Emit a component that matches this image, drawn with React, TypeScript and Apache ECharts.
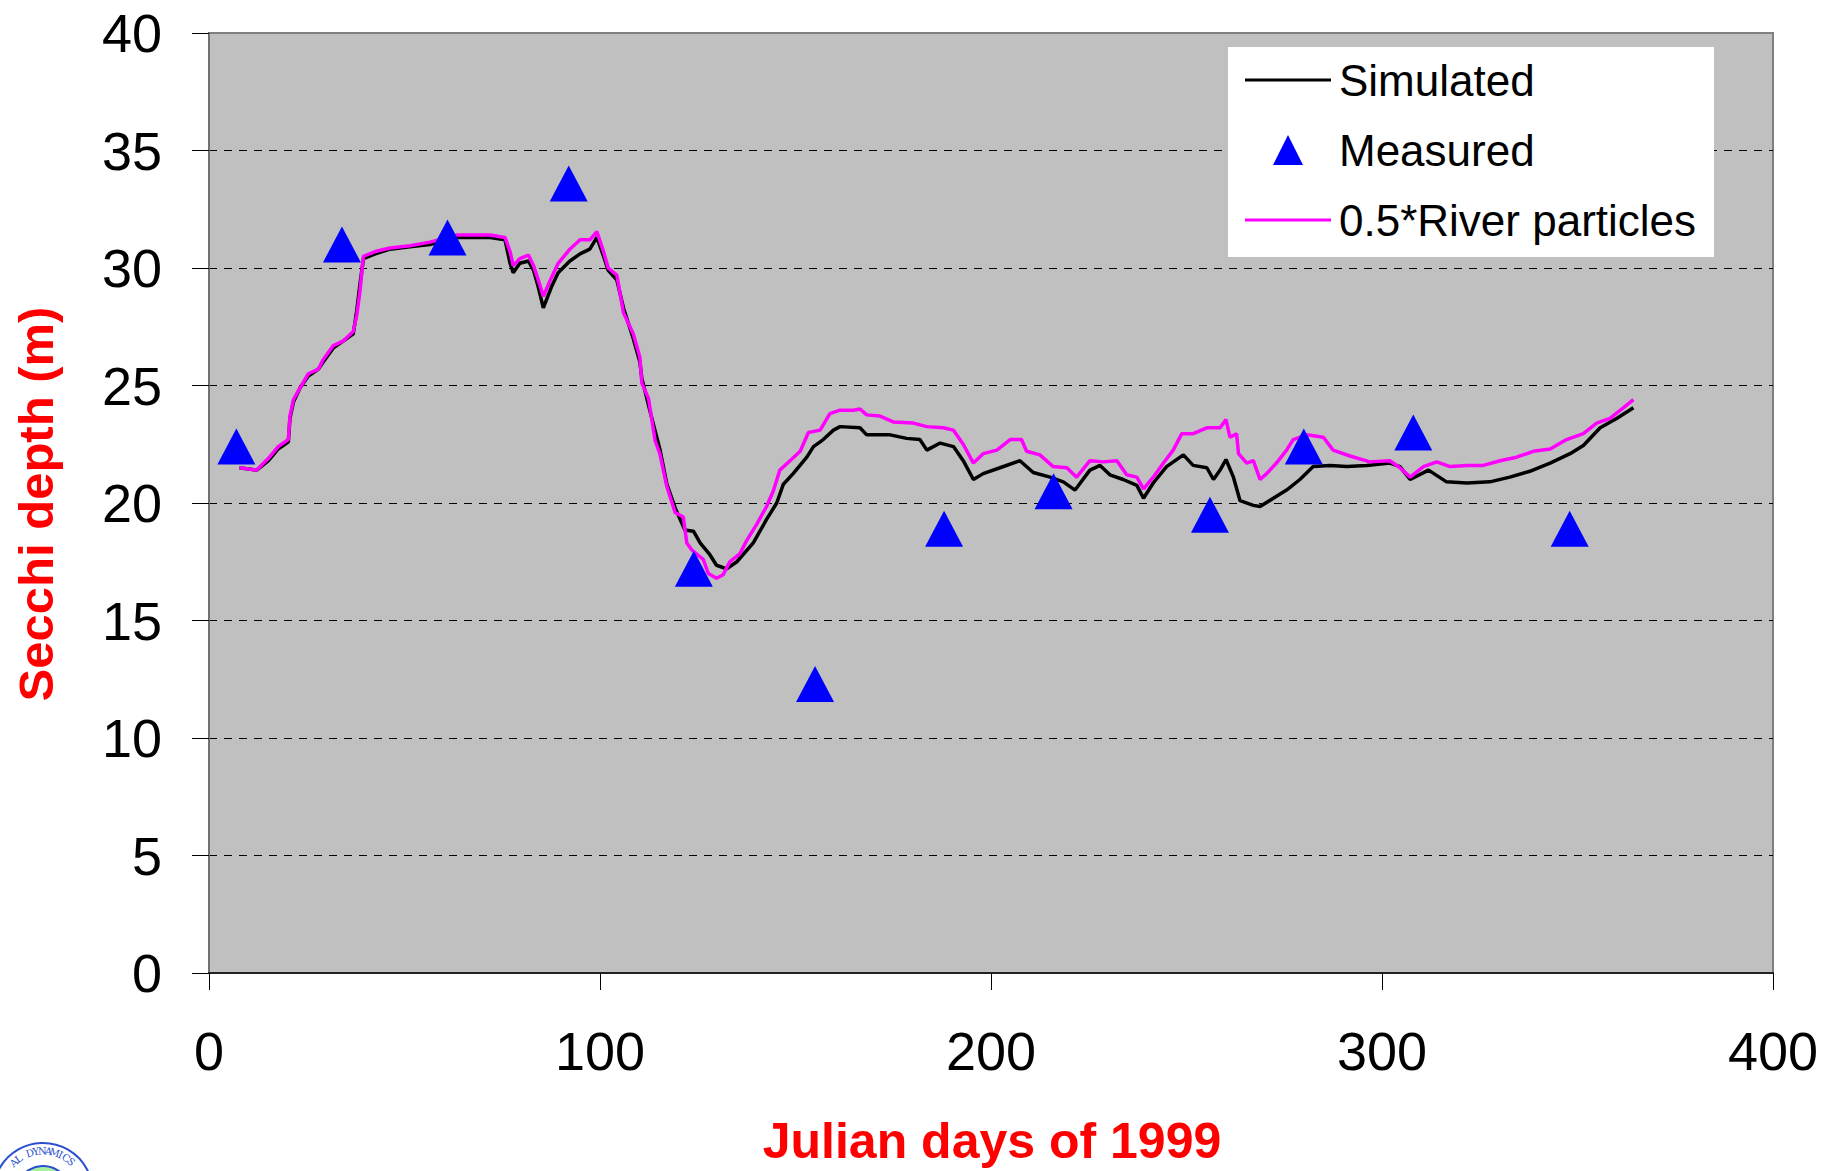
import React, { useEffect, useRef } from "react";
import * as echarts from "echarts";

// Measured Secchi depths (blue triangles)
const measDays = [7, 34, 61, 92, 124, 155, 188, 216, 256, 280, 308, 348];
const measDepth = [22.4, 31.0, 31.3, 33.6, 17.2, 12.3, 18.9, 20.5, 19.5, 22.4, 23.0, 18.9];

// Simulated (black line)
const simDays = [
  7.8, 12.2, 15.2, 17.7, 20.3, 20.7, 21.6, 23.3, 25.4, 28, 29.2, 31.8, 34.4, 36.9, 37.8, 38.6, 39.5,
  42.5, 46.3, 51.4, 56.5, 63.3, 71.9, 75.7, 77, 77.8, 79.5, 81.7, 83, 84.2, 85.5, 87.6, 89.3, 92.3,
  94.9, 97.4, 99.2, 100.9, 102.1, 104.3, 106, 108.5, 110.2, 110.7, 112.8, 115.3, 117.1, 119.2, 121.7,
  123.9, 125.6, 128.1, 129.8, 132.4, 135, 139.2, 142.6, 145.2, 146.9, 149.4, 152.9, 154.6, 157.1,
  159.7, 161.4, 166.5, 168.2, 174.2, 178.4, 181.8, 183.6, 187, 190.4, 192.9, 195.5, 198, 202.3,
  207.4, 210.8, 215.1, 218.5, 221.5, 225.3, 227.9, 230.4, 233.8, 237.3, 239, 241.5, 244.9, 249.2,
  251.7, 255.2, 256.9, 258.6, 260.1, 262, 263.7, 267.1, 268.8, 272.2, 275.6, 279, 282.4, 286.7,
  291, 296.1, 302, 304.6, 307.2, 311.9, 316.5, 321.7, 327.6, 332.7, 337.8, 343, 348.1, 351.5,
  355.8, 360, 364.3,
];
const simDepth = [
  21.5, 21.4, 21.8, 22.3, 22.6, 23.6, 24.3, 24.9, 25.4, 25.7, 26.0, 26.6, 26.9, 27.2, 28.2, 29.3, 30.4,
  30.6, 30.8, 30.9, 31.0, 31.3, 31.3, 31.2, 30.2, 29.8, 30.2, 30.3, 29.9, 29.2, 28.3, 29.2, 29.8, 30.3,
  30.6, 30.8, 31.3, 30.5, 29.9, 29.5, 28.3, 27.0, 26.0, 25.3, 23.9, 22.3, 20.8, 19.8, 18.85,
  18.8, 18.3, 17.8, 17.35, 17.2, 17.5, 18.3, 19.3, 20.0, 20.8, 21.25, 21.95, 22.4, 22.7,
  23.1, 23.25, 23.2, 22.9, 22.9, 22.75, 22.7, 22.25, 22.55, 22.4, 21.8, 21.0, 21.25, 21.5,
  21.8, 21.3, 21.1, 20.9, 20.55, 21.4, 21.6, 21.2, 21.0, 20.75, 20.2, 20.85, 21.55, 22.05,
  21.6, 21.5, 21.0, 21.4, 21.85, 21.1, 20.1, 19.9, 19.85, 20.2, 20.55, 21.0, 21.55, 21.6,
  21.55, 21.6, 21.7, 21.55, 21.0, 21.4, 20.9, 20.85, 20.9, 21.1, 21.35, 21.7, 22.1, 22.45,
  23.2, 23.6, 24.05,
];

// 0.5*River particles (magenta line)
const riverDays = [
  7.8, 12.2, 15.2, 17.7, 20.3, 20.7, 21.6, 23.3, 25.4, 28, 29.2, 31.8, 34.4, 36.9, 37.8, 38.6, 39.5,
  42.5, 46.3, 51.4, 56.5, 63.3, 71.9, 75.7, 77, 77.8, 79.5, 81.7, 83, 84.2, 85.5, 87.6, 89.3, 92.3,
  94.9, 97.4, 99.2, 100.9, 102.1, 104.3, 106, 108.5, 110.2, 110.7, 112.4, 113.2, 114.1, 115.3, 117.1,
  119.2, 121.3, 122.2, 123.5, 126.4, 127.7, 129.8, 131.5, 133.2, 135.8, 137.5, 140.1, 142.6, 144.3,
  146, 148.6, 151.2, 153.3, 156.3, 158.8, 161.4, 164.8, 166.5, 168.2, 171.6, 175, 180.1, 183.6,
  187.8, 190.4, 192.9, 195.5, 198, 201.5, 204.9, 207.8, 209.1, 212.5, 215.9, 219.4, 221.9, 225.3,
  228.7, 232.2, 234.7, 237.3, 239, 241.5, 244.1, 246.6, 248.8, 251.7, 255.2, 258.6, 260.1, 261.1,
  262.8, 263.3, 265.4, 267.1, 268.8, 270.5, 273, 275.6, 277.3, 280.7, 285, 287.5, 291.8, 296.9,
  302, 304.6, 307.2, 310.6, 314, 317.4, 321.7, 325.9, 330.2, 334.4, 338.7, 343, 347.2, 351.5,
  354.9, 358.3, 361.7, 364.3,
];
const riverDepth = [
  21.5, 21.4, 21.9, 22.4, 22.7, 23.7, 24.4, 24.9, 25.5, 25.7, 26.1, 26.7, 26.9, 27.3, 28.0, 29.0, 30.5,
  30.7, 30.85, 30.95, 31.1, 31.4, 31.4, 31.3, 30.7, 30.1, 30.4, 30.55, 30.1, 29.5, 28.8, 29.6, 30.2, 30.8,
  31.2, 31.2, 31.55, 30.7, 30.0, 29.7, 28.1, 27.2, 26.2, 25.1, 24.45, 23.6, 22.65, 22.1, 20.7,
  19.6, 19.4, 18.3, 18.0, 17.6, 17.0, 16.8, 16.95, 17.5, 17.85, 18.4, 19.1, 19.85, 20.5,
  21.4, 21.8, 22.2, 23.0, 23.1, 23.8, 23.95, 23.95, 24.0, 23.75, 23.7, 23.45, 23.4, 23.25,
  23.2, 23.1, 22.5, 21.7, 22.1, 22.25, 22.7, 22.7, 22.2, 22.05, 21.55, 21.5, 21.1, 21.8,
  21.75, 21.8, 21.2, 21.1, 20.6, 21.1, 21.7, 22.25, 22.95, 22.95, 23.2, 23.2, 23.55, 22.8,
  22.95, 22.1, 21.7, 21.8, 21.0, 21.25, 21.7, 22.25, 22.7, 22.9, 22.8, 22.25, 22.0, 21.75,
  21.8, 21.5, 21.1, 21.55, 21.75, 21.55, 21.6, 21.6, 21.8, 21.95, 22.2, 22.3, 22.7, 22.95,
  23.4, 23.6, 24.05, 24.4,
];

const xTicks = { min: 0, max: 400, interval: 100 };
const yTicks = { min: 0, max: 40, interval: 5 };

const FONT = '"Liberation Sans", Arial, Helvetica, sans-serif';

function logoGraphics() {
  const cx = 43;
  const cy = 1193;
  const els: any[] = [
    { type: "circle", shape: { cx, cy, r: 50 }, style: { fill: "#fff", stroke: "#2a4fd0", lineWidth: 2 } },
    { type: "circle", shape: { cx, cy, r: 27 }, style: { fill: "#a8f0a0", stroke: "#2a4fd0", lineWidth: 2 } },
  ];
  const txt = "AL DYNAMICS";
  const start = -134;
  const step = 8.6;
  for (let i = 0; i < txt.length; i++) {
    const th = ((start + i * step) * Math.PI) / 180;
    const r = 42;
    els.push({
      type: "text",
      x: cx + r * Math.cos(th),
      y: cy + r * Math.sin(th),
      rotation: -(th + Math.PI / 2),
      style: {
        text: txt[i],
        fill: "#2a4fd0",
        font: '10px "DejaVu Serif", serif',
        align: "center",
        verticalAlign: "middle",
      },
    });
  }
  return els;
}

export default function App() {
  const ref = useRef<HTMLDivElement>(null);
  useEffect(() => {
    if (!ref.current) return;
    const chart = echarts.init(ref.current, null, { renderer: "svg" });
    chart.setOption({
      animation: false,
      backgroundColor: "#ffffff",
      grid: {
        left: 209,
        right: 70,
        top: 33,
        bottom: 198,
        show: true,
        backgroundColor: "#c0c0c0",
        borderColor: "#808080",
        borderWidth: 2,
      },
      xAxis: {
        type: "value",
        min: xTicks.min,
        max: xTicks.max,
        interval: xTicks.interval,
        axisLine: { show: true, onZero: false, lineStyle: { color: "#222", width: 2 } },
        axisTick: { show: true, length: 17, lineStyle: { color: "#000", width: 1 } },
        axisLabel: { fontSize: 54, color: "#000", fontFamily: FONT, margin: 51 },
        splitLine: { show: false },
      },
      yAxis: {
        type: "value",
        min: yTicks.min,
        max: yTicks.max,
        interval: yTicks.interval,
        axisLine: { show: true, onZero: false, lineStyle: { color: "#707070", width: 2 } },
        axisTick: { show: true, length: 17, lineStyle: { color: "#000", width: 1 } },
        axisLabel: { fontSize: 54, color: "#000", fontFamily: FONT, margin: 47 },
        splitLine: {
          show: true,
          showMinLine: false,
          showMaxLine: false,
          lineStyle: { color: "#000", width: 1, type: [8, 7] },
        },
      },
      legend: {
        orient: "vertical",
        left: 1228,
        top: 47,
        backgroundColor: "#ffffff",
        padding: [8, 18, 12, 17],
        itemWidth: 86,
        itemHeight: 30,
        itemGap: 20,
        textStyle: { fontSize: 44, color: "#000", fontFamily: FONT, lineHeight: 50, padding: [0, 0, 0, 3] },
        data: [
          { name: "Simulated", icon: "path://M0,0 L86,0 L86,3 L0,3 Z", itemStyle: { color: "#000000" } },
          { name: "Measured", icon: "path://M15,0 L30,30 L0,30 Z", itemStyle: { color: "#0000ff" } },
          { name: "0.5*River particles", icon: "path://M0,0 L86,0 L86,3 L0,3 Z", itemStyle: { color: "#ff00ff" } },
        ],
      },
      series: [
        {
          name: "Simulated",
          type: "line",
          symbol: "none",
          showSymbol: false,
          lineStyle: { color: "#000000", width: 3.5 },
          itemStyle: { color: "#000000" },
          data: simDays.map((d, i) => [d, simDepth[i]]),
          z: 2,
        },
        {
          name: "0.5*River particles",
          type: "line",
          symbol: "none",
          showSymbol: false,
          lineStyle: { color: "#ff00ff", width: 3.5 },
          itemStyle: { color: "#ff00ff" },
          data: riverDays.map((d, i) => [d, riverDepth[i]]),
          z: 3,
        },
        {
          name: "Measured",
          type: "scatter",
          symbol: "triangle",
          symbolSize: [38, 36],
          itemStyle: { color: "#0000ff", opacity: 1 },
          data: measDays.map((d, i) => [d, measDepth[i]]),
          z: 4,
        },
      ],
      graphic: [
        {
          type: "text",
          x: 36,
          y: 504,
          rotation: Math.PI / 2,
          style: {
            text: "Secchi depth (m)",
            fill: "#ff0000",
            font: `bold 49px ${FONT}`,
            align: "center",
            verticalAlign: "middle",
          },
        },
        {
          type: "text",
          x: 992,
          y: 1141,
          style: {
            text: "Julian days of 1999",
            fill: "#ff0000",
            font: `bold 50px ${FONT}`,
            align: "center",
            verticalAlign: "middle",
          },
        },
        ...logoGraphics(),
      ],
    });
    return () => chart.dispose();
  }, []);
  return (
    <div
      ref={ref}
      style={{ position: "fixed", left: 0, top: 0, width: 1843, height: 1171 }}
    />
  );
}
